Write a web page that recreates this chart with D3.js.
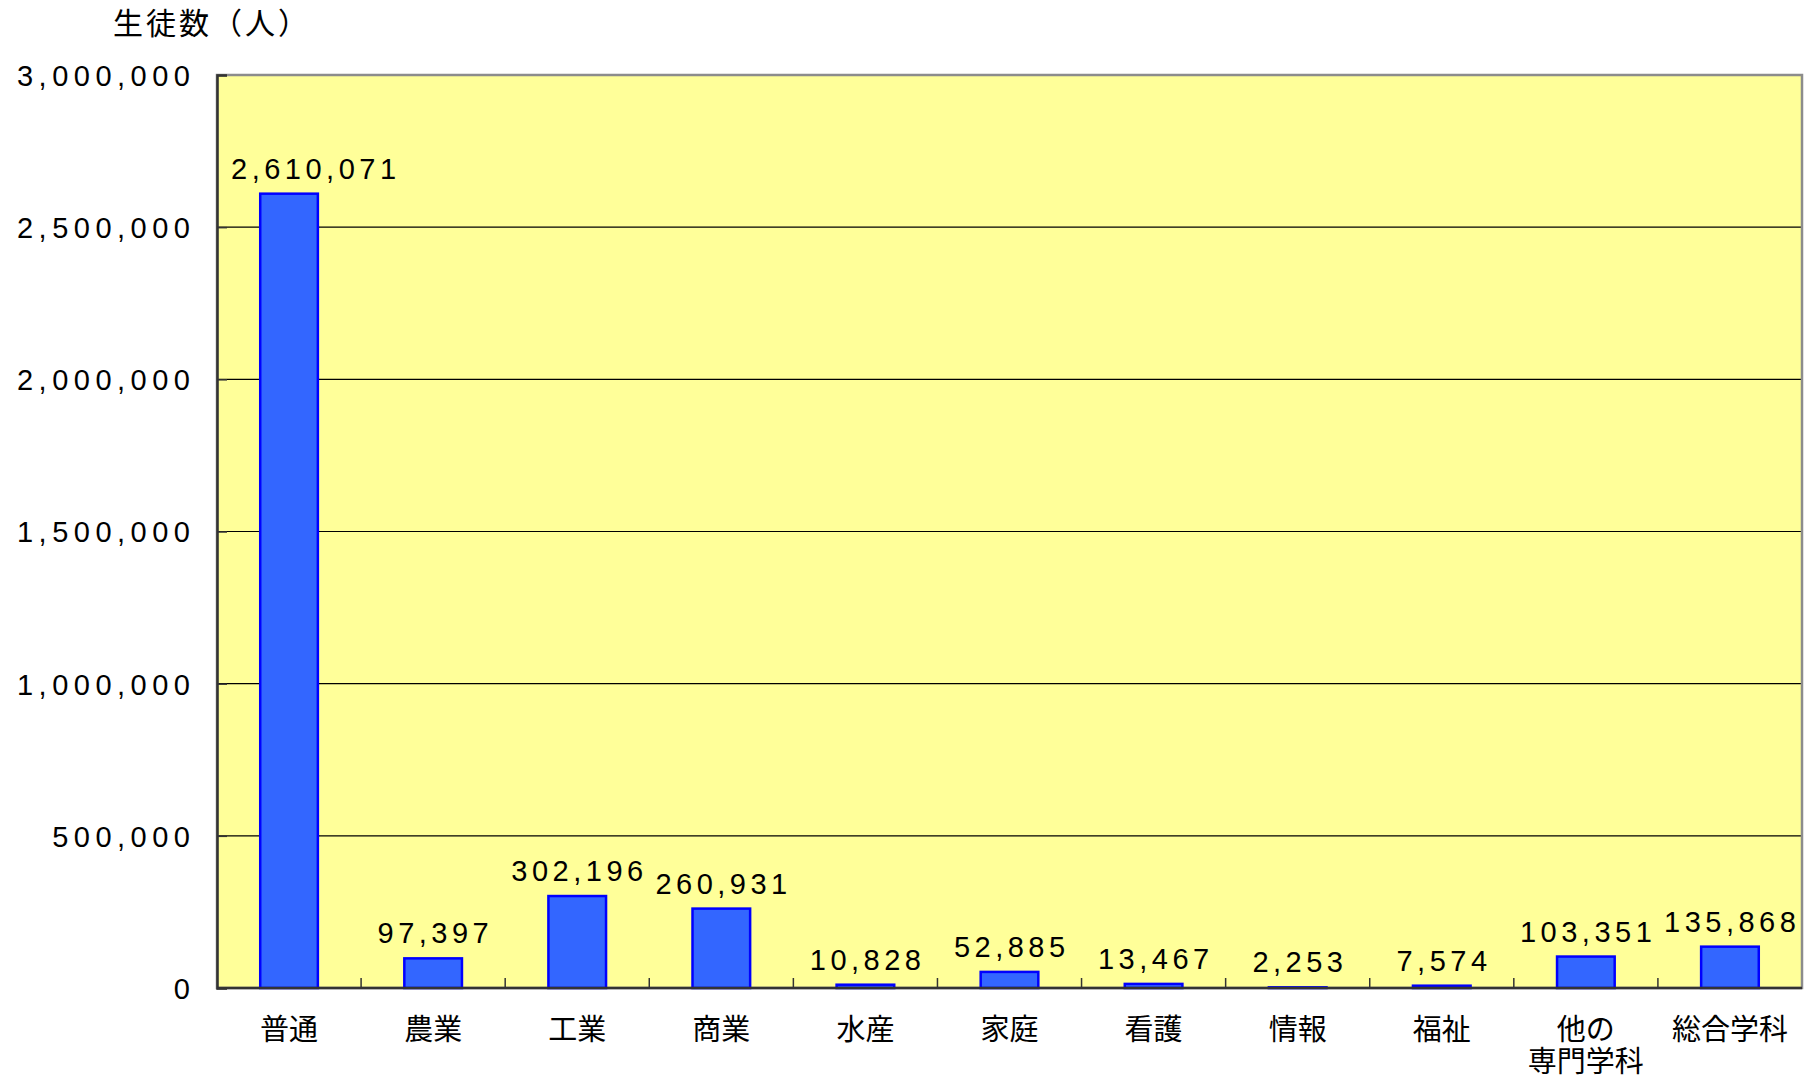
<!DOCTYPE html>
<html><head><meta charset="utf-8">
<script src="https://cdn.jsdelivr.net/npm/d3@7"></script>
<style>
body{margin:0;background:#fff;}
</style></head>
<body><svg id="c" width="1809" height="1080"></svg>
<script>
const categories = [["普通"],["農業"],["工業"],["商業"],["水産"],["家庭"],["看護"],["情報"],["福祉"],["他の","専門学科"],["総合学科"]];
const values = [2610071, 97397, 302196, 260931, 10828, 52885, 13467, 2253, 7574, 103351, 135868];
const yTicks = [0, 500000, 1000000, 1500000, 2000000, 2500000, 3000000];
const yTitle = "生徒数（人）";

const LATIN = "'Liberation Sans', Arial, sans-serif";
const CJK = "'Noto Sans CJK JP', sans-serif";

const svg = d3.select("#c");
const L = 217, R = 1802, T = 75, B = 988;
const x = d3.scaleBand().domain(d3.range(values.length)).range([L, R]).paddingInner(0.6).paddingOuter(0.3);
const xb = d3.scaleBand().domain(d3.range(values.length)).range([L, R]);
const y = d3.scaleLinear().domain([0, 3000000]).range([B, T]);
const fmt = d3.format(",");

svg.append("rect").attr("x", L).attr("y", T).attr("width", R - L).attr("height", B - T).attr("fill", "#FFFF99");

// gridlines
svg.append("g").selectAll("line").data(yTicks.filter(d => d > 0 && d < 3000000)).join("line")
  .attr("x1", L).attr("x2", R).attr("y1", d => y(d)).attr("y2", d => y(d))
  .attr("stroke", "#000").attr("stroke-width", 1.2);

// border
svg.append("rect").attr("x", L).attr("y", T).attr("width", R - L).attr("height", B - T)
  .attr("fill", "none").attr("stroke", "#8c8c8c").attr("stroke-width", 2.5);

// bars
svg.append("g").selectAll("rect").data(values).join("rect")
  .attr("x", (d, i) => x(i)).attr("width", x.bandwidth())
  .attr("y", d => y(d)).attr("height", d => B - y(d))
  .attr("fill", "#3366FF").attr("stroke", "#0000FF").attr("stroke-width", 2.5);

// y axis
const ySpacing = 5.5;
const yAxis = d3.axisLeft(y).tickValues(yTicks).tickSize(-10).tickPadding(27 - ySpacing).tickFormat(fmt);
const gy = svg.append("g").attr("transform", `translate(${L},0)`).call(yAxis);
gy.select(".domain").attr("stroke", "#333").attr("stroke-width", 2.5);
gy.selectAll(".tick line").attr("stroke", "#333").attr("stroke-width", 1.5);
gy.selectAll(".tick text").attr("fill", "#000").attr("dy", "0.36em")
  .style("font-family", LATIN).style("font-size", "29px").style("letter-spacing", ySpacing + "px");

// x axis ticks & baseline
svg.append("g").selectAll("line").data(d3.range(1, values.length)).join("line")
  .attr("x1", i => xb(i)).attr("x2", i => xb(i)).attr("y1", B).attr("y2", B - 10)
  .attr("stroke", "#333").attr("stroke-width", 1.5);
svg.append("line").attr("x1", L).attr("x2", R).attr("y1", B).attr("y2", B).attr("stroke", "#333").attr("stroke-width", 2.5);

// category labels
const cl = svg.append("g").selectAll("text").data(categories).join("text")
  .attr("x", (d, i) => xb(i) + xb.bandwidth() / 2).attr("y", 1040)
  .attr("text-anchor", "middle").attr("fill", "#000")
  .style("font-family", CJK).style("font-size", "29px");
cl.selectAll("tspan").data(d => d).join("tspan")
  .attr("x", function() { return d3.select(this.parentNode).attr("x"); })
  .attr("dy", (d, j) => j === 0 ? 0 : 32).text(d => d);

// value labels (kept inside the plot area)
const vSpacing = 4.5;
svg.append("g").selectAll("text").data(values).join("text")
  .attr("y", d => y(d) - 15)
  .attr("text-anchor", "middle").attr("fill", "#000")
  .style("font-family", LATIN).style("font-size", "29px").style("letter-spacing", vSpacing + "px")
  .text(d => fmt(d))
  .attr("x", function(d, i) {
    const w = this.getComputedTextLength();
    const c = x(i) + x.bandwidth() / 2 + vSpacing / 2;
    return Math.max(c, L + 14 + w / 2);
  });

// y title
svg.append("text").attr("x", 113).attr("y", 34).attr("fill", "#000")
  .style("font-family", CJK).style("font-size", "30px").style("letter-spacing", "3px").text(yTitle);
</script></body></html>
